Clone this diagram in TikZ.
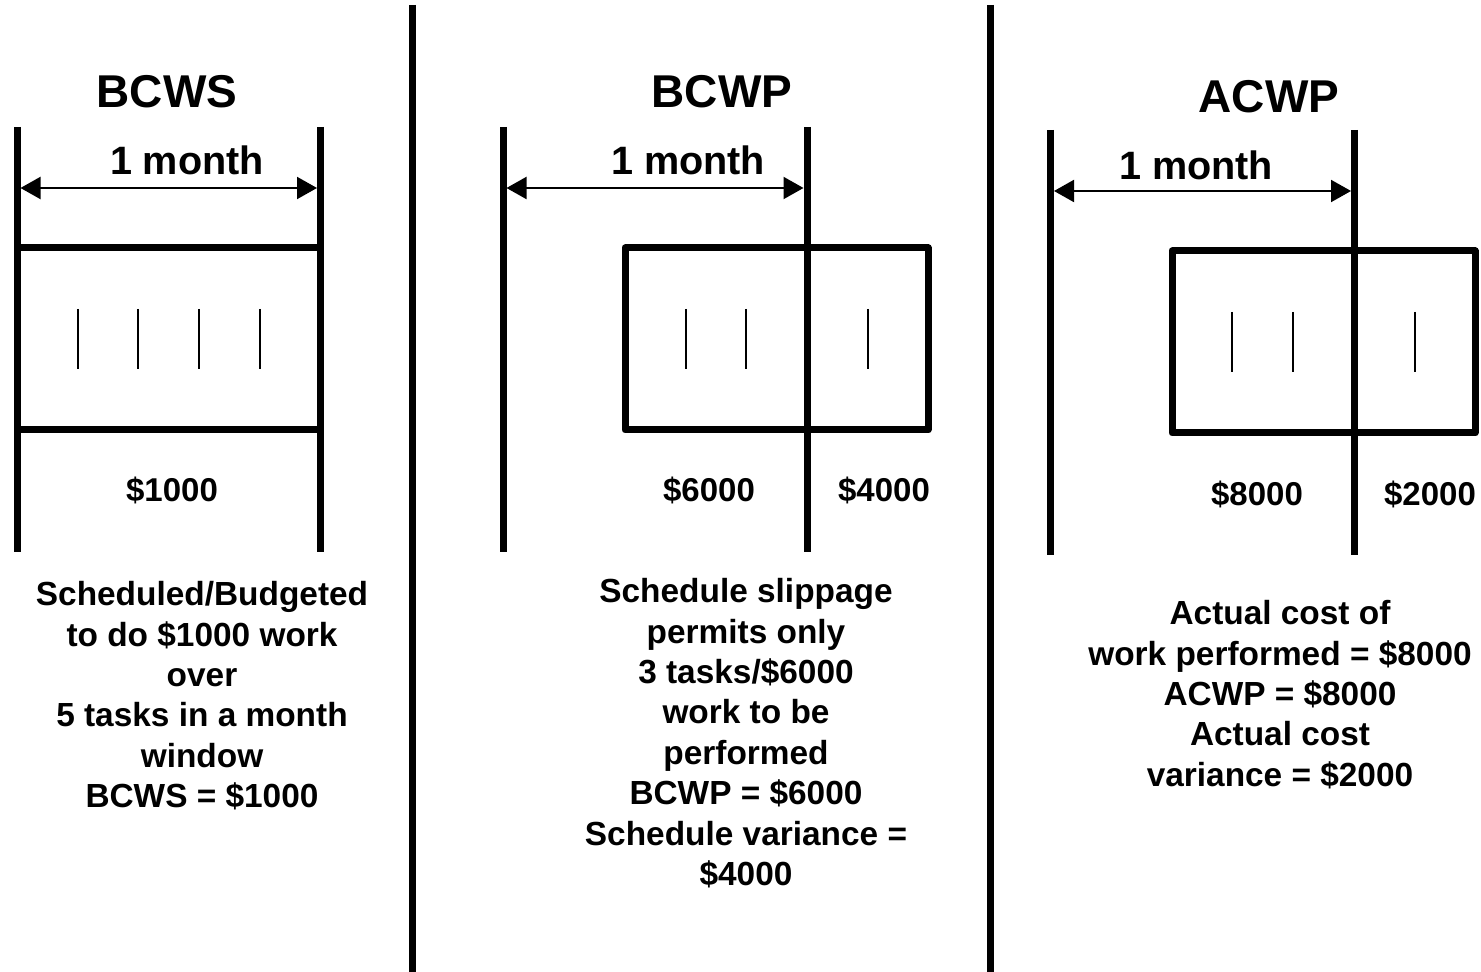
\documentclass[tikz,border=0pt]{standalone}
\usepackage{fontspec}
\setmainfont{Liberation Sans}
\usetikzlibrary{arrows.meta}

\tikzset{every picture/.style={line width=3.5pt},
	bar/.style={line width=3.5pt,line join=round},
	tick/.style={line width=1pt},
	span/.style={line width=1pt,{Triangle[length=10pt,width=11pt]}-{Triangle[length=10pt,width=11pt]}},
	title/.style={font=\bfseries\fontsize{23}{27}\selectfont,inner sep=0pt,anchor=base},
	month/.style={font=\bfseries\fontsize{19.8}{24}\selectfont,inner sep=0pt,anchor=base},
	cost/.style={font=\bfseries\fontsize{16.5}{20}\selectfont,inner sep=0pt,anchor=base},
	note/.style={font=\bfseries\fontsize{16.7}{20.2}\selectfont,inner sep=0pt,anchor=north,align=center}}

\begin{document}
\begin{tikzpicture}[x=0.5pt,y=-0.5pt]
			\useasboundingbox (0,0) rectangle (1481,972);
			% panel separators
			\draw[bar] (412,5) -- (412,972);
			\draw[bar] (990,5) -- (990,972);

			% BCWS
			\node [title](bcws) at (167,108) {BCWS};
			\draw[bar] (17,127) -- (17,552);
			\draw[bar] (320.5,127) -- (320.5,552);
			\coordinate (ws1) at (20.5,188);
			\coordinate (ws2) at (317,188);
			\draw[span] (ws1) -- (ws2);
			\node [month](wsm) at (187,175) {1 month};
			\draw[bar] (17,248) -- (320.5,248);
			\draw[bar] (17,430) -- (320.5,430);
			\foreach \x in {78,138,199,260} \draw[tick] (\x,309) -- (\x,369);
			\node [cost](wsc) at (172,502) {\$1000};
			\node [note](wsn) at (202,578) {Scheduled/Budgeted\\to do \$1000 work\\over\\5 tasks in a month\\window\\BCWS = \$1000};

			% BCWP
			\node [title](bcwp) at (722,108) {BCWP};
			\draw[bar] (503,127) -- (503,552);
			\draw[bar] (807,127) -- (807,552);
			\coordinate (wp1) at (506.5,188);
			\coordinate (wp2) at (803.5,188);
			\draw[span] (wp1) -- (wp2);
			\node [month](wpm) at (688,175) {1 month};
			\draw[bar] (625,248) rectangle (928,430);
			\foreach \x in {686,746,868} \draw[tick] (\x,309) -- (\x,369);
			\node [cost](wpc1) at (709,502) {\$6000};
			\node [cost](wpc2) at (884,502) {\$4000};
			\node [note](wpn) at (746,575) {Schedule slippage\\permits only\\3 tasks/\$6000\\work to be\\performed\\BCWP = \$6000\\Schedule variance =\\\$4000};

			% ACWP
			\node [title](acwp) at (1269,113) {ACWP};
			\draw[bar] (1050.5,130) -- (1050.5,555);
			\draw[bar] (1354.5,130) -- (1354.5,555);
			\coordinate (ap1) at (1054,191);
			\coordinate (ap2) at (1351,191);
			\draw[span] (ap1) -- (ap2);
			\node [month](apm) at (1196,180) {1 month};
			\draw[bar] (1172,251) rectangle (1475,433);
			\foreach \x in {1232,1293,1415} \draw[tick] (\x,312) -- (\x,372);
			\node [cost](apc1) at (1257,505) {\$8000};
			\node [cost](apc2) at (1430,505) {\$2000};
			\node [note](apn) at (1280,597) {Actual cost of\\work performed = \$8000\\ACWP = \$8000\\Actual cost\\variance = \$2000};
		\end{tikzpicture}
\end{document}
